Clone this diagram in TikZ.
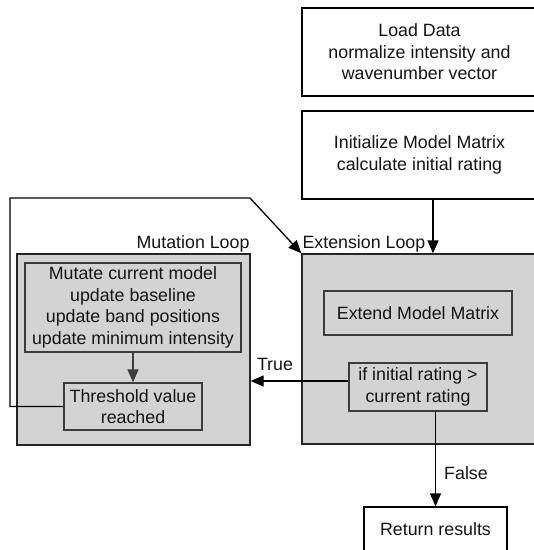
\documentclass[tikz,border=0pt]{standalone}
\usepackage{fontspec}
\setmainfont{Liberation Sans}
\usetikzlibrary{arrows.meta}

\definecolor{loopfill}{RGB}{211,211,211}
\definecolor{innerline}{RGB}{60,60,60}
\definecolor{txtgray}{RGB}{20,20,20}

\tikzset{
  stepbox/.style={draw=black, line width=1.3pt, fill=white, align=center,
    inner sep=0pt, text=txtgray},
  loopbox/.style={draw=black!85, line width=1.3pt, fill=loopfill, inner sep=0pt},
  innerbox/.style={draw=innerline, line width=1.3pt, fill=loopfill, align=center,
    inner sep=0pt, text=txtgray},
  flow/.style={line width=1.3pt, -{Triangle[length=13pt,width=11pt]}},
  lbl/.style={text=txtgray, inner sep=1pt}
}

\begin{document}
\begin{tikzpicture}[x=1pt, y=-1pt, font=\fontsize{17.8}{21.5}\selectfont]

  \useasboundingbox (0,0) rectangle (534,550);

  % start boxes
  \node[stepbox, minimum width=235pt, minimum height=88pt] (load) at (419.5,52)
    {Load Data\\normalize intensity and\\wavenumber vector};
  \node[stepbox, minimum width=235pt, minimum height=88pt] (init) at (419.5,155)
    {Initialize Model Matrix\\calculate initial rating};

  % loop frames
  \node[loopbox, minimum width=233pt, minimum height=191pt] (mutloop) at (133.5,349.5) {};
  \node[loopbox, minimum width=234pt, minimum height=190pt] (ext) at (419,349) {};
  \node[lbl, anchor=south east] (mutlbl) at (mutloop.north east) {Mutation Loop};
  \node[lbl, anchor=south west] (extlbl) at (ext.north west) {Extension Loop};

  % inner steps
  \node[innerbox, minimum width=216pt, minimum height=89pt] (mut) at (133,307.5)
    {Mutate current model\\update baseline\\update band positions\\update minimum intensity};
  \node[innerbox, minimum width=138pt, minimum height=47pt] (thr) at (133,406.5)
    {Threshold value\\reached};
  \node[innerbox, minimum width=188pt, minimum height=44pt] (extend) at (418,313)
    {Extend Model Matrix};
  \node[innerbox, minimum width=138pt, minimum height=48pt] (cond) at (418,387)
    {if initial rating \textgreater\\current rating};

  % result
  \node[stepbox, minimum width=143pt, minimum height=44pt] (ret) at (435.5,529)
    {Return results};

  % helper points
  \coordinate (inarr) at (433,0);
  \coordinate (truey) at (0,381);
  \coordinate (fbl) at (10,198);
  \coordinate (fbr) at (250,198);

  % connectors
  \draw[flow] (init.south -| inarr) -- (inarr |- ext.north);
  \draw[flow, draw=innerline] (mut.south) -- (thr.north);
  \draw[flow] (cond.west |- truey) -- (mutloop.east |- truey);
  \draw[flow] (cond.south -| ret.north) -- (ret.north);
  \draw[flow] (thr.west) -- (thr.west -| fbl) -- (fbl) -- (fbr) -- (ext.north west);

  % branch labels
  \node[lbl] (truelbl) at (275,364) {True};
  \node[lbl] (falselbl) at (466,473) {False};

\end{tikzpicture}
\end{document}
